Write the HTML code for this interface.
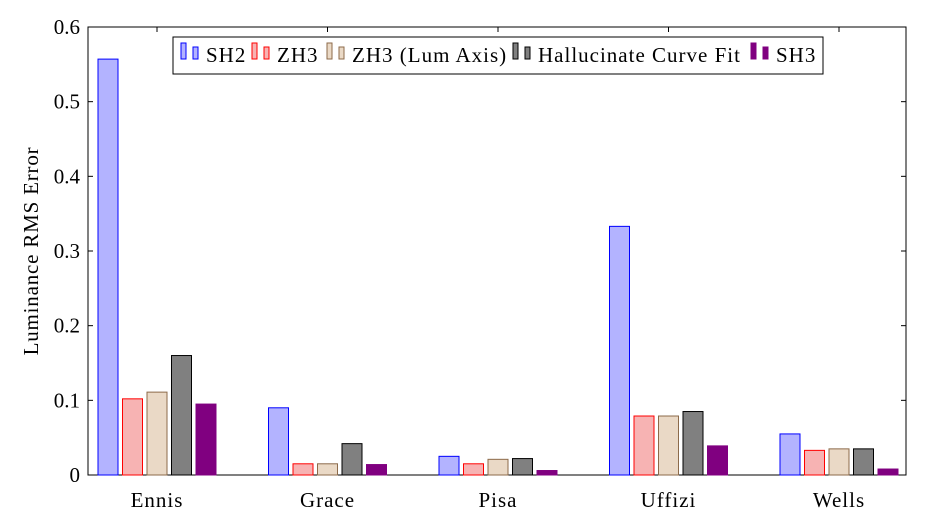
<!DOCTYPE html>
<html><head><meta charset="utf-8"><style>
body{margin:0;background:#fff;}
svg text{font-family:"Liberation Serif",serif;fill:#000;}
</style></head><body>
<svg id="c" width="929" height="526" xmlns="http://www.w3.org/2000/svg"></svg>
<script>
const categories=["Ennis","Grace","Pisa","Uffizi","Wells"];
const seriesNames=["SH2","ZH3","ZH3 (Lum Axis)","Hallucinate Curve Fit","SH3"];
const sh2=[0.557,0.090,0.025,0.333,0.055];
const zh3=[0.102,0.015,0.015,0.079,0.033];
const zh3lum=[0.111,0.015,0.021,0.079,0.035];
const hcf=[0.160,0.042,0.022,0.085,0.035];
const sh3=[0.095,0.014,0.006,0.039,0.008];
const yTicks=[0,0.1,0.2,0.3,0.4,0.5,0.6];
const yTickLabels=["0","0.1","0.2","0.3","0.4","0.5","0.6"];

const NS="http://www.w3.org/2000/svg";
const svg=document.getElementById('c');
function mk(t,a){const e=document.createElementNS(NS,t);for(const k in a)e.setAttribute(k,a[k]);svg.appendChild(e);return e;}
const X0=88,X1=906,Y0=475,Y1=27;
const y=v=>Y0-(v/0.6)*(Y0-Y1);
const x=i=>157+i*170.5;
const fills=["#b3b3ff","#f7b3b3","#ead9c6","#808080","#800080"];
const strokes=["#0000ff","#ff0000","#8c6a4a","#000000","#800080"];
const data=[sh2,zh3,zh3lum,hcf,sh3];
const names=["sh2","zh3","zh3-lum","hallucinate","sh3"];
const FS=21;
let f=mk('rect',{x:X0,y:Y1,width:X1-X0,height:Y0-Y1,fill:'none',stroke:'#000','stroke-width':1});

yTicks.forEach((t,i)=>{
 let l=mk('line',{x1:X0,x2:X0+5,y1:y(t),y2:y(t),stroke:'#000'});
 
 let l2=mk('line',{x1:X1,x2:X1-5,y1:y(t),y2:y(t),stroke:'#000'});
 
 let tx=mk('text',{x:X0-8,y:y(t)+7,'text-anchor':'end','font-size':FS});tx.textContent=yTickLabels[i];
 
});
categories.forEach((c,i)=>{
 let l=mk('line',{x1:x(i),x2:x(i),y1:Y0,y2:Y0-5,stroke:'#000'});
 
 let l2=mk('line',{x1:x(i),x2:x(i),y1:Y1,y2:Y1+5,stroke:'#000'});
 
 let tx=mk('text',{x:x(i),y:Y0+32,'text-anchor':'middle','font-size':FS,'letter-spacing':1});tx.textContent=c;
 
 data.forEach((s,k)=>{
  const cx=x(i)+(k-2)*24.5;
  let r=mk('rect',{x:cx-10,y:y(s[i]),width:20,height:Y0-y(s[i]),fill:fills[k],stroke:strokes[k],'stroke-width':1});
  
  
 });
});
let yt=mk('text',{x:0,y:0,transform:'translate(38,251) rotate(-90)','text-anchor':'middle','font-size':FS,'letter-spacing':0.8});
yt.textContent="Luminance RMS Error";

let lg=mk('rect',{x:173,y:37,width:650,height:37,fill:'#fff',stroke:'#000'});

const legX=[181,252,327,513,751];
seriesNames.forEach((n,k)=>{
 const lx=legX[k];
 let a=mk('rect',{x:lx,y:43,width:5,height:16,fill:fills[k],stroke:strokes[k]});
 
 let b=mk('rect',{x:lx+12,y:47,width:5,height:12,fill:fills[k],stroke:strokes[k]});
 
 let t=mk('text',{x:lx+25,y:62,'font-size':FS,'letter-spacing':1});t.textContent=n;
 
});
</script>
</body></html>
